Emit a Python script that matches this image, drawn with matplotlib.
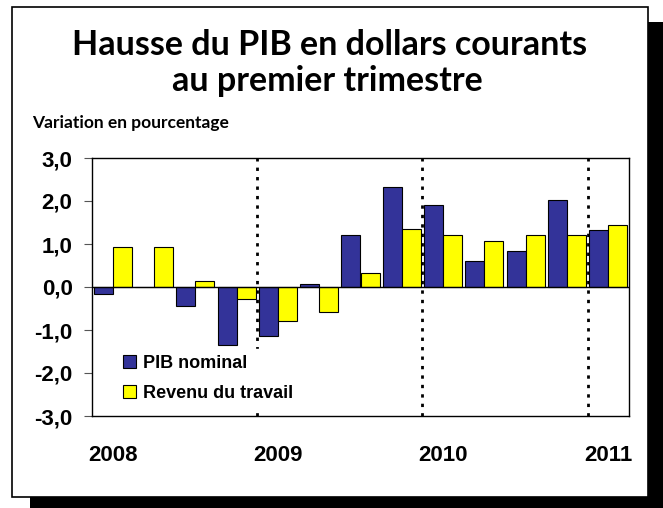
import matplotlib.pyplot as plt
from matplotlib.patches import Rectangle

# quarterly data, 2008Q1 - 2011Q1
quarters = ["2008T1", "2008T2", "2008T3", "2008T4",
            "2009T1", "2009T2", "2009T3", "2009T4",
            "2010T1", "2010T2", "2010T3", "2010T4",
            "2011T1"]
pib_nominal = [-0.17, 0.0, -0.45, -1.36, -1.15, 0.08, 1.22, 2.32, 1.91, 0.60, 0.84, 2.02, 1.33]
revenu_travail = [0.92, 0.94, 0.14, -0.29, -0.78, -0.57, 0.33, 1.36, 1.22, 1.06, 1.21, 1.21, 1.45]
year_labels = ["2008", "2009", "2010", "2011"]
y_ticks = [-3, -2, -1, 0, 1, 2, 3]

W, H = 663, 508
fig = plt.figure(figsize=(W / 100, H / 100), dpi=100)

# frame with black drop shadow
fig.patches.append(Rectangle((30 / W, 0), 1 - 30 / W, 11 / H, transform=fig.transFigure,
                             facecolor="black", edgecolor="none", zorder=0))
fig.patches.append(Rectangle((648 / W, 0), 15 / W, 1 - 22 / H, transform=fig.transFigure,
                             facecolor="black", edgecolor="none", zorder=0))
fig.patches.append(Rectangle((12 / W, 1 - 497 / H), 636 / W, 490 / H, transform=fig.transFigure,
                             facecolor="white", edgecolor="black", lw=1.2, zorder=1))

ax = fig.add_axes([92 / W, 1 - 416 / H, 537 / W, 258 / H])
ax.set_zorder(2)

x = list(range(len(quarters)))
bw = 0.46
ax.bar([i - bw / 2 for i in x], pib_nominal, bw, color="#333399", edgecolor="black",
       lw=0.8, label="PIB nominal", zorder=2)
ax.bar([i + bw / 2 for i in x], revenu_travail, bw, color="#FFFF00", edgecolor="black",
       lw=0.8, label="Revenu du travail", zorder=2)

ax.axhline(0, color="black", lw=1, zorder=3)
for xv in [3.5, 7.5, 11.5]:
    ax.axvline(xv, color="black", lw=2, linestyle=(0, (1.2, 2.2)), zorder=3)

ax.set_xlim(-0.5, len(quarters) - 0.5)
ax.set_ylim(-3, 3)
ax.set_yticks(y_ticks)
ax.set_yticklabels([f"{v:.1f}".replace(".", ",") for v in y_ticks],
                   fontsize=16, fontweight="bold", family="Liberation Sans")
ax.tick_params(axis="y", direction="out", length=6, color="#555555", pad=8)
ax.set_xticks([0, 4, 8, 12])
ax.set_xticklabels(year_labels, fontsize=16, fontweight="bold", family="Liberation Sans")
ax.tick_params(axis="x", length=0, pad=21)
for s in ax.spines.values():
    s.set_color("black")
    s.set_linewidth(1)

leg = ax.legend(loc="lower left", bbox_to_anchor=(0.03, 0.0), frameon=True,
                facecolor="white", edgecolor="white", framealpha=1, fancybox=False,
                handlelength=0.75, handleheight=0.75, handletextpad=0.4,
                labelspacing=0.72, borderpad=0.3,
                prop={"family": "Liberation Sans", "weight": "bold", "size": 13})
leg.set_zorder(4)

fig.text(330 / W, 1 - 45 / H, "Hausse du PIB en dollars courants", ha="center", va="center",
         fontsize=24.5, fontweight="bold", family=["Lato", "DejaVu Sans"], zorder=3)
fig.text(327 / W, 1 - 81 / H, "au premier trimestre", ha="center", va="center",
         fontsize=24.5, fontweight="bold", family=["Lato", "DejaVu Sans"], zorder=3)
fig.text(32 / W, 1 - 123 / H, "Variation en pourcentage", ha="left", va="center",
         fontsize=12.5, fontweight="bold", family=["Lato", "DejaVu Sans"], zorder=3)

fig.savefig("out.png", dpi=100)
